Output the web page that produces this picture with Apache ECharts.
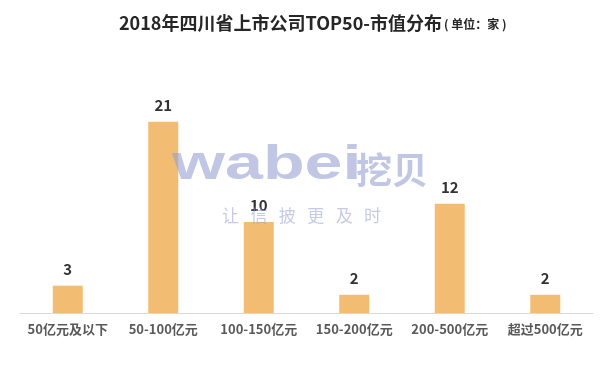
<!DOCTYPE html>
<html><head><meta charset="utf-8">
<script src="https://cdn.jsdelivr.net/npm/echarts@6/dist/echarts.min.js"></script>
<style>html,body{margin:0;padding:0;background:#fff}#c{width:605px;height:378px}</style>
</head><body><div id="c"></div>
<script>
const categories = ['50亿元及以下','50-100亿元','100-150亿元','150-200亿元','200-500亿元','超过500亿元'];
const counts = [3, 21, 10, 2, 12, 2];
const titleMain = '2018年四川省上市公司TOP50-市值分布';
const titleUnit = '( 单位：家 )';
const FONT = '"Noto Sans CJK SC", "Microsoft YaHei", sans-serif';

const chart = echarts.init(document.getElementById('c'));
chart.setOption({
  backgroundColor: '#fff',
  animation: false,
  title: {
    left: 114, top: 9,
    text: '{a|' + titleMain + '}{b|' + titleUnit + '}',
    textStyle: {
      rich: {
        a: {fontFamily: FONT, fontSize: 18, fontWeight: 'bold', color: '#262626'},
        b: {fontFamily: FONT, fontSize: 12, fontWeight: 'bold', color: '#262626', padding: [3,0,0,2]}
      }
    }
  },
  grid: {left: 20, right: 12, top: 58, bottom: 65},
  xAxis: {
    type: 'category', data: categories,
    axisLine: {lineStyle: {color: '#d9d9d9', width: 1}},
    axisTick: {show: false},
    axisLabel: {fontFamily: FONT, fontSize: 13, fontWeight: 'bold', color: '#595959', margin: 10, interval: 0}
  },
  yAxis: {type: 'value', min: 0, max: 28, show: false, splitLine: {show: false}},
  series: [{
    type: 'bar', data: counts, barWidth: 30,
    itemStyle: {color: '#F2BC72'},
    label: {show: true, position: 'top', distance: 9, fontFamily: FONT, fontSize: 15, fontWeight: 'bold', color: '#333'}
  }],
  graphic: [
    {type: 'text', x: 172, y: 190, z: 100, scaleX: 1.42,
     style: {text: 'wabei', font: 'bold 48px Arial, "Liberation Sans", sans-serif', fill: 'rgba(150,160,210,0.6)', textVerticalAlign: 'bottom', verticalAlign: 'alphabetic'}},
    {type: 'text', left: 356, top: 152, z: 100,
     style: {text: '挖贝', font: 'bold 36px "Noto Sans CJK SC", sans-serif', fill: 'rgba(150,160,210,0.6)'}},
    {type: 'text', left: 222, top: 207, z: 100,
     style: {text: '让   信   披   更   及   时', font: '17px "Noto Sans CJK SC", sans-serif', fill: 'rgba(150,160,210,0.55)'}}
  ]
});
</script></body></html>
